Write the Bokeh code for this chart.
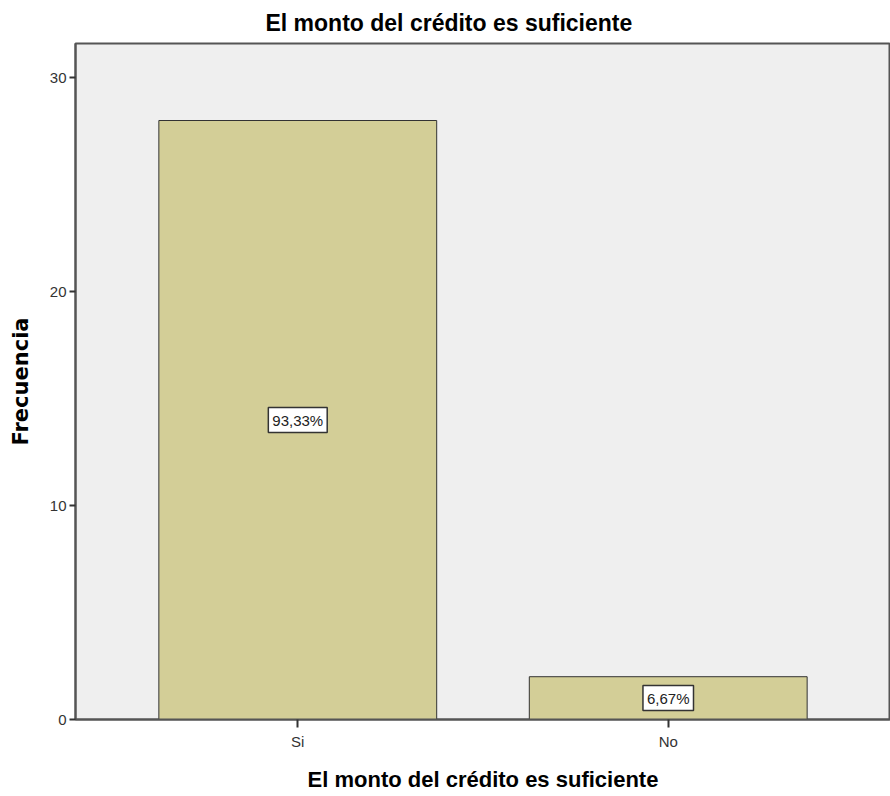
from bokeh.plotting import figure
from bokeh.models import FactorRange, Range1d, Label, FixedTicker
from bokeh.embed import file_html
from bokeh.resources import INLINE

categories = ["Si", "No"]
counts = [28, 2]
percent_labels = ["93,33%", "6,67%"]
y_ticks = [0, 10, 20, 30]

SANS = "Liberation Sans"

p = figure(
    x_range=FactorRange(*categories, range_padding=0.1),
    y_range=Range1d(0, 31.6),
    width=890, height=794,
    output_backend="svg", toolbar_location=None,
    min_border_left=75, min_border_right=0, min_border_bottom=75, min_border_top=42,
    title="El monto del crédito es suficiente",
)

p.title.align = "left"
p.title.offset = 190
p.title.standoff = 15
p.title.text_font = SANS
p.title.text_font_style = "bold"
p.title.text_font_size = "23px"
p.title.text_color = "#000000"

p.background_fill_color = "#efefef"
p.border_fill_color = "#ffffff"
p.outline_line_color = "#555555"
p.outline_line_width = 2
p.grid.visible = False

p.vbar(x=categories, top=counts, width=0.75,
       fill_color="#d3ce97", line_color="#333333", line_width=1)

# labels at the factor centres (synthetic coordinates of the FactorRange: 0.5, 1.5, ...)
for i, (cnt, lab) in enumerate(zip(counts, percent_labels)):
    p.add_layout(Label(x=i + 0.5, y=cnt / 2, text=lab,
                       text_align="center", text_baseline="middle",
                       text_font=SANS, text_font_size="15px", text_color="#222222",
                       background_fill_color="#ffffff", border_line_color="#333333",
                       border_line_width=1.5, padding=4))

p.yaxis.ticker = FixedTicker(ticks=y_ticks)
p.yaxis.minor_tick_line_color = None
p.yaxis.major_tick_out = 6
p.yaxis.major_tick_in = 0
p.yaxis.major_label_standoff = 3
p.yaxis.axis_label = "Frecuencia"
p.yaxis.axis_label_text_font = "DejaVu Sans"
p.yaxis.axis_label_text_font_style = "bold"
p.yaxis.axis_label_text_font_size = "21px"
p.yaxis.axis_label_standoff = 14

p.xaxis.major_tick_out = 8
p.xaxis.major_tick_in = 0
p.xaxis.major_label_standoff = 5
p.xaxis.axis_label = "El monto del crédito es suficiente"
p.xaxis.axis_label_text_font = SANS
p.xaxis.axis_label_text_font_style = "bold"
p.xaxis.axis_label_text_font_size = "22px"
p.xaxis.axis_label_standoff = 14

for ax in (p.xaxis, p.yaxis):
    ax.axis_line_color = "#555555"
    ax.axis_line_width = 2
    ax.major_tick_line_color = "#333333"
    ax.major_tick_line_width = 2
    ax.major_label_text_font = SANS
    ax.major_label_text_font_size = "15px"
    ax.major_label_text_color = "#333333"
    ax.axis_label_text_color = "#000000"

open("out.html", "w").write(file_html(p, INLINE))
